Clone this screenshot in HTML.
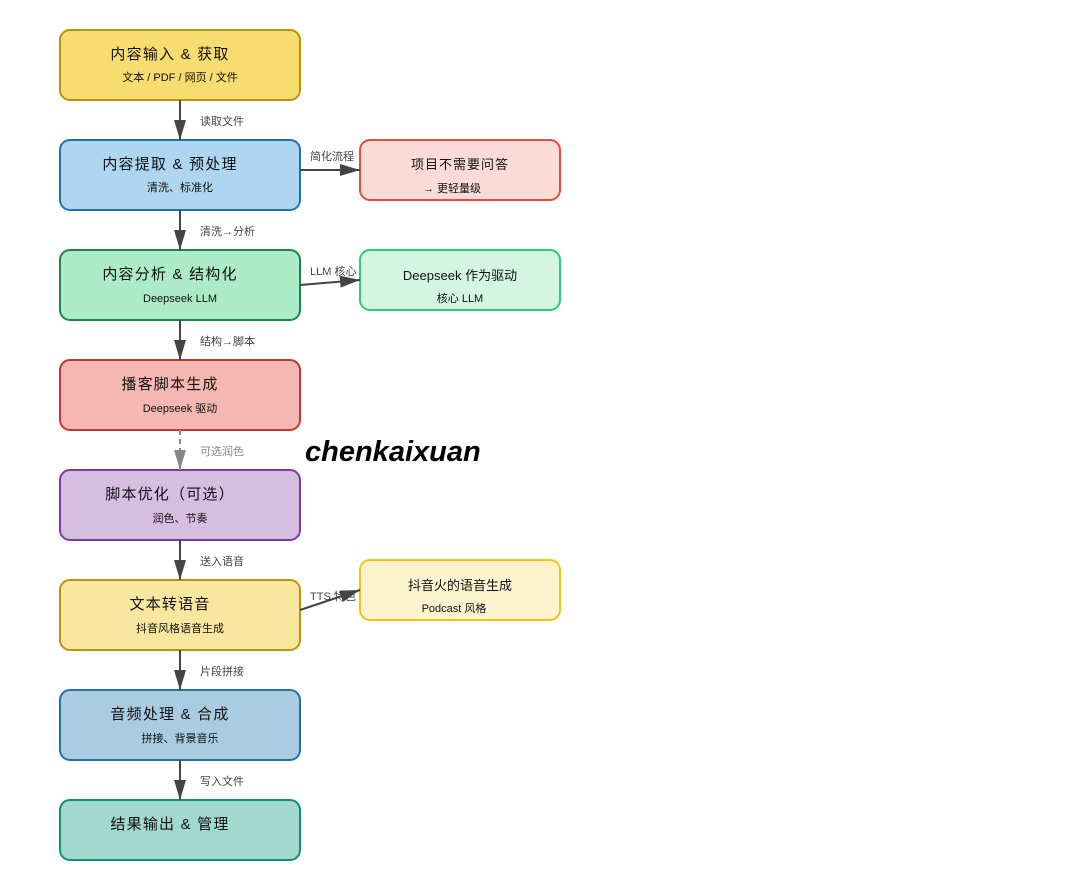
<!DOCTYPE html>
<html><head><meta charset="utf-8"><style>
html,body{margin:0;padding:0;background:#fff;}
svg{display:block;}
text{font-family:"Liberation Sans","Noto Sans CJK SC",sans-serif;}
.t{font-size:15px;letter-spacing:1.2px;fill:#111;text-anchor:middle;}
.s{font-size:11px;fill:#111;text-anchor:middle;}
.l{font-size:11px;fill:#444;}
</style></head><body>
<svg width="1080" height="880" viewBox="0 0 1080 880" xmlns="http://www.w3.org/2000/svg">
<defs>
<marker id="a" markerWidth="20" markerHeight="12" refX="20" refY="6" orient="auto" markerUnits="userSpaceOnUse" viewBox="0 0 20 12"><path d="M0,0 L20,6 L0,12 z" fill="#444"/></marker>
<marker id="g" markerWidth="20" markerHeight="12" refX="20" refY="6" orient="auto" markerUnits="userSpaceOnUse" viewBox="0 0 20 12"><path d="M0,0 L20,6 L0,12 z" fill="#888"/></marker>
</defs>
<g stroke-width="2">
<rect x="60" y="30" width="240" height="70" rx="10" fill="#f7dc6f" stroke="#b7950b"/>
<rect x="60" y="140" width="240" height="70" rx="10" fill="#aed6f1" stroke="#2471a3"/>
<rect x="60" y="250" width="240" height="70" rx="10" fill="#abebc6" stroke="#1e8449"/>
<rect x="60" y="360" width="240" height="70" rx="10" fill="#f5b7b1" stroke="#c0392b"/>
<rect x="60" y="470" width="240" height="70" rx="10" fill="#d7bde2" stroke="#7d3c98"/>
<rect x="60" y="580" width="240" height="70" rx="10" fill="#f9e79f" stroke="#b7950b"/>
<rect x="60" y="690" width="240" height="70" rx="10" fill="#a9cce3" stroke="#2471a3"/>
<rect x="60" y="800" width="240" height="60" rx="10" fill="#a2d9ce" stroke="#148f77"/>
<rect x="360" y="140" width="200" height="60" rx="10" fill="#fadbd8" stroke="#e74c3c"/>
<rect x="360" y="250" width="200" height="60" rx="10" fill="#d5f5e3" stroke="#2ecc71"/>
<rect x="360" y="560" width="200" height="60" rx="10" fill="#fcf3cf" stroke="#f1c40f"/>
</g>
<g stroke="#444" stroke-width="2" fill="none">
<line x1="180" y1="100" x2="180" y2="140" marker-end="url(#a)"/>
<line x1="180" y1="210" x2="180" y2="250" marker-end="url(#a)"/>
<line x1="180" y1="320" x2="180" y2="360" marker-end="url(#a)"/>
<line x1="180" y1="430" x2="180" y2="470" stroke="#888" stroke-dasharray="5,4" marker-end="url(#g)"/>
<line x1="180" y1="540" x2="180" y2="580" marker-end="url(#a)"/>
<line x1="180" y1="650" x2="180" y2="690" marker-end="url(#a)"/>
<line x1="180" y1="760" x2="180" y2="800" marker-end="url(#a)"/>
<line x1="300" y1="170" x2="360" y2="170" marker-end="url(#a)"/>
<line x1="300" y1="285" x2="360" y2="280" marker-end="url(#a)"/>
<line x1="300" y1="610" x2="360" y2="590" marker-end="url(#a)"/>
</g>
<text class="t" x="170" y="59">内容输入 &amp; 获取</text>
<text class="s" x="180" y="81">文本 / PDF / 网页 / 文件</text>
<text class="t" x="170" y="169">内容提取 &amp; 预处理</text>
<text class="s" x="180" y="191">清洗、标准化</text>
<text class="t" x="170" y="279">内容分析 &amp; 结构化</text>
<text class="s" x="180" y="302">Deepseek LLM</text>
<text class="t" x="170" y="389">播客脚本生成</text>
<text class="s" x="180" y="412">Deepseek 驱动</text>
<text class="t" x="170" y="499">脚本优化（可选）</text>
<text class="s" x="180" y="522">润色、节奏</text>
<text class="t" x="170" y="609">文本转语音</text>
<text class="s" x="180" y="632">抖音风格语音生成</text>
<text class="t" x="170" y="719">音频处理 &amp; 合成</text>
<text class="s" x="180" y="742">拼接、背景音乐</text>
<text class="t" x="170" y="829">结果输出 &amp; 管理</text>
<text class="s" x="460" y="169" style="font-size:13px;letter-spacing:1px">项目不需要问答</text>
<text class="s" x="452" y="192">→ 更轻量级</text>
<text class="s" x="460" y="280" style="font-size:13px">Deepseek 作为驱动</text>
<text class="s" x="460" y="302">核心 LLM</text>
<text class="s" x="460" y="590" style="font-size:13px">抖音火的语音生成</text>
<text class="s" x="454" y="612">Podcast 风格</text>
<text class="l" x="200" y="125">读取文件</text>
<text class="l" x="200" y="235">清洗→分析</text>
<text class="l" x="200" y="345">结构→脚本</text>
<text class="l" x="200" y="455" style="fill:#888">可选润色</text>
<text class="l" x="200" y="565">送入语音</text>
<text class="l" x="200" y="675">片段拼接</text>
<text class="l" x="200" y="785">写入文件</text>
<text class="l" x="310" y="160">简化流程</text>
<text class="l" x="310" y="275">LLM 核心</text>
<text class="l" x="310" y="600">TTS 特色</text>
<text x="305" y="461" style="font-size:29px;font-weight:bold;font-style:italic;fill:#000">chenkaixuan</text>
</svg>
</body></html>
